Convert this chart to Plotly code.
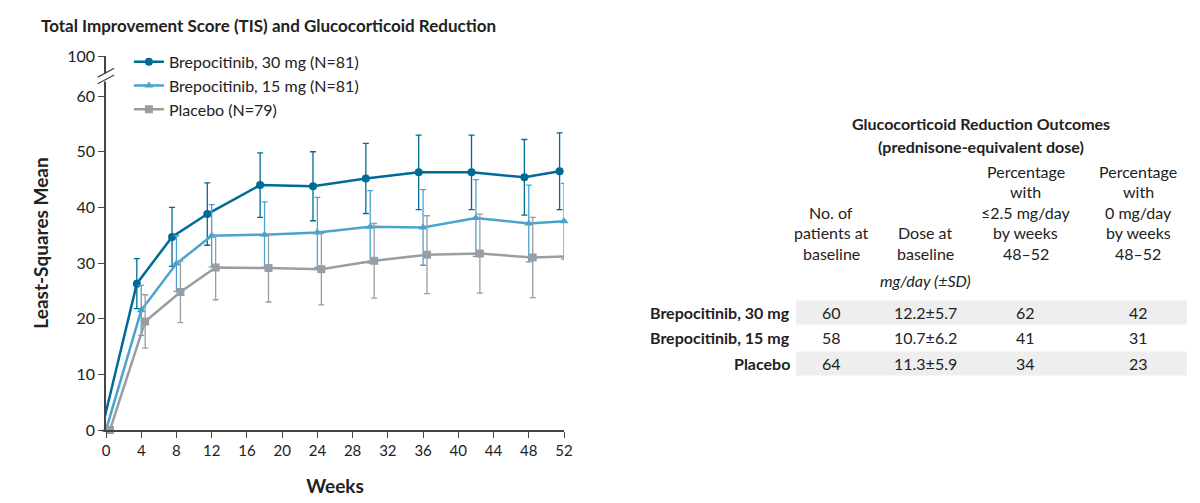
import plotly.graph_objects as go

# Datos
semanas = [0, 4, 8, 12, 18, 24, 30, 36, 42, 48, 52]
b30 = [0, 26.3, 34.7, 38.8, 44.0, 43.8, 45.2, 46.3, 46.3, 45.4, 46.5]
b30_err = [0, 4.5, 5.3, 5.6, 5.8, 6.2, 6.3, 6.7, 6.7, 6.8, 6.9]
b15 = [0, 21.5, 29.9, 34.9, 35.1, 35.5, 36.5, 36.4, 38.1, 37.1, 37.5]
b15_err = [0, 4.5, 5.0, 5.6, 5.9, 6.3, 6.5, 6.8, 6.9, 6.9, 6.8]
plac = [0, 19.5, 24.8, 29.2, 29.1, 28.9, 30.4, 31.5, 31.7, 31.0, 31.2]
plac_err = [0, 4.8, 5.5, 5.8, 6.1, 6.4, 6.7, 7.0, 7.1, 7.2, 7.2]

filas = ['Brepocitinib, 30 mg', 'Brepocitinib, 15 mg', 'Placebo']
n_base = ['60', '58', '64']
dosis = ['12.2±5.7', '10.7±6.2', '11.3±5.9']
pct_25 = ['62', '41', '34']
pct_0 = ['42', '31', '23']

C30, C15, CP = '#006b96', '#4ba3cd', '#9a9ea3'
FONT = 'Lato'

fig = go.Figure()
series = [
    ('Brepocitinib, 30 mg (N=81)', b30, b30_err, C30, 'circle', -0.5),
    ('Brepocitinib, 15 mg (N=81)', b15, b15_err, C15, 'triangle-up', 0.0),
    ('Placebo (N=79)', plac, plac_err, CP, 'square', 0.45),
]
for nombre, y, err, color, simbolo, dx in series:
    fig.add_trace(go.Scatter(
        x=[s + dx for s in semanas], y=y, name=nombre, mode='lines+markers',
        line=dict(color=color, width=2.5),
        marker=dict(symbol=simbolo, size=8, color=color),
        error_y=dict(type='data', array=err, color=color, thickness=1.3, width=3),
        cliponaxis=False,
    ))

# Etiquetas finales y corchete
for y, color in [(b30[-1], C30), (b15[-1], C15), (plac[-1], '#808488')]:
    fig.add_annotation(x=53.5, y=y, text=f'{y:.1f}', showarrow=False, xanchor='left',
                       font=dict(size=16, color=color))
for y in [b30[-1], plac[-1]]:
    fig.add_shape(type='line', x0=57.5, x1=59.3, y0=y, y1=y, line=dict(color='#333', width=1))
fig.add_shape(type='line', x0=59.3, x1=59.3, y0=plac[-1], y1=b30[-1], line=dict(color='#333', width=1))
fig.add_annotation(x=60.3, y=(b30[-1] + plac[-1]) / 2 + 1, text='P<0.001', showarrow=False,
                   xanchor='left', font=dict(size=16, color='#222'))

# Corte del eje y
fig.add_shape(type='rect', xref='paper', x0=-0.01, x1=0.01, y0=62.6, y1=64.0,
              fillcolor='white', line=dict(width=0))
for y0 in [62.2, 63.4]:
    fig.add_shape(type='line', xref='paper', x0=-0.018, x1=0.018, y0=y0, y1=y0 + 1.6,
                  line=dict(color='#444', width=1.2))

W, H = 1200, 503
L, R, T, B = 98, 644, 48, 81
def px(x):
    return (x - L) / (W - L - R)
def py(y):
    return 1 - (y - T) / (H - T - B)

def texto(x, y, t, size=16, bold=False, italic=False, anchor='center'):
    if bold:
        t = f'<b>{t}</b>'
    if italic:
        t = f'<i>{t}</i>'
    fig.add_annotation(xref='paper', yref='paper', x=px(x), y=py(y), text=t, showarrow=False,
                       xanchor=anchor, yanchor='middle', font=dict(size=size, color='#222'))

def columna(x, y_final, lineas):
    for k, linea in enumerate(reversed(lineas)):
        texto(x, y_final - 20.5 * k, linea)

# Tabla a la derecha
texto(973, 115, 'Glucocorticoid Reduction Outcomes', bold=True)
texto(973, 138, '(prednisone-equivalent dose)', bold=True)
columna(823, 245, ['No. of', 'patients at', 'baseline'])
columna(917, 245, ['Dose at', 'baseline'])
columna(1018, 245, ['Percentage', 'with', '≤2.5 mg/day', 'by weeks', '48–52'])
columna(1130, 245, ['Percentage', 'with', '0 mg/day', 'by weeks', '48–52'])
texto(917, 272, 'mg/day (±SD)', italic=True)

for i, fila in enumerate(filas):
    yc = 304 + i * 25.5
    if i != 1:
        fig.add_shape(type='rect', xref='paper', yref='paper', x0=px(788), x1=px(1179),
                      y0=py(yc - 11.5), y1=py(yc + 12.5), fillcolor='#eeeeee',
                      line=dict(width=0), layer='below')
    texto(784, yc, fila, bold=True, anchor='right')
    texto(823, yc, n_base[i])
    texto(917, yc, dosis[i])
    texto(1018, yc, pct_25[i])
    texto(1130, yc, pct_0[i])

fig.update_layout(
    width=W, height=H, margin=dict(l=L, r=R, t=T, b=B, autoexpand=False),
    plot_bgcolor='white', paper_bgcolor='white',
    font=dict(family=FONT, size=16, color='#222'),
    title=dict(text='<b>Total Improvement Score (TIS) and Glucocorticoid Reduction</b>',
               x=33 / W, xanchor='left', y=1 - 18 / H, yanchor='middle',
               font=dict(size=17), automargin=False),
    legend=dict(x=0.05, y=1.03, xanchor='left', yanchor='top', bgcolor='rgba(0,0,0,0)',
                font=dict(size=16), tracegroupgap=2),
    xaxis=dict(range=[0, 52], tickvals=list(range(0, 53, 4)), showline=True, linecolor='#444',
               linewidth=1.5, ticks='outside', ticklen=6, tickcolor='#444', showgrid=False,
               zeroline=False, automargin=False, title=dict(text='<b>Weeks</b>', standoff=22),
               tickfont=dict(size=15)),
    yaxis=dict(range=[0, 67.2], tickvals=[0, 10, 20, 30, 40, 50, 60, 67.2],
               ticktext=['0', '10', '20', '30', '40', '50', '60', '100'],
               showline=True, linecolor='#444', linewidth=1.5, ticks='outside', ticklen=6,
               tickcolor='#444', showgrid=False, zeroline=False, automargin=False,
               title=dict(text='<b>Least-Squares Mean</b>', standoff=14), tickfont=dict(size=16)),
)

fig.write_html('out.html')
